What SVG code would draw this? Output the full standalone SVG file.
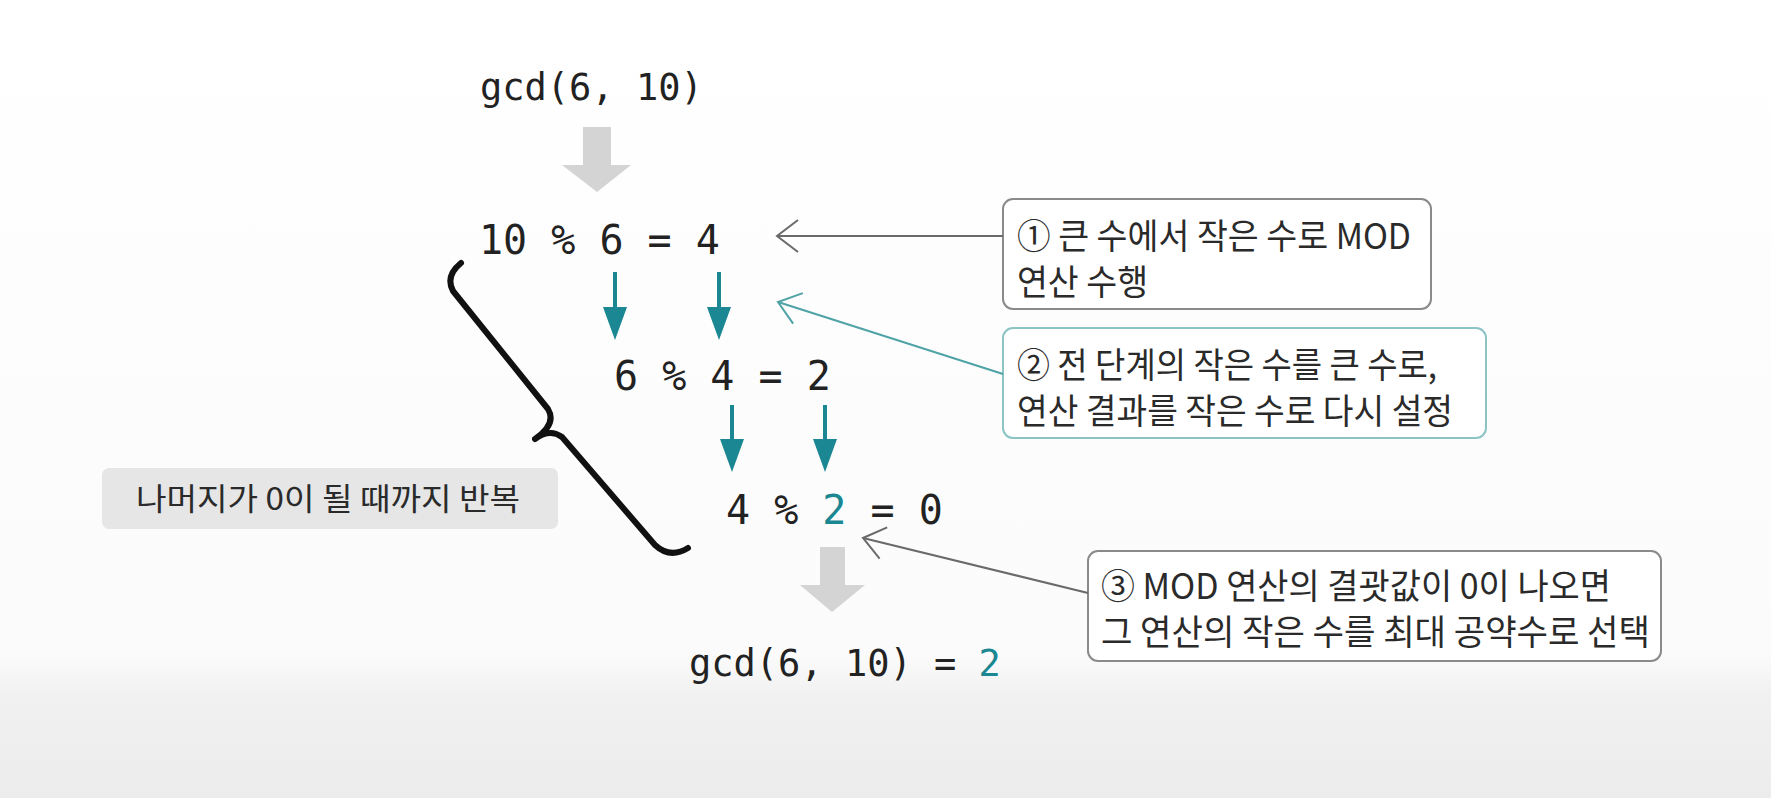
<svg xmlns="http://www.w3.org/2000/svg" width="1771" height="798" viewBox="0 0 1771 798">
<defs>
<linearGradient id="bg" x1="0" y1="0" x2="0" y2="1">
<stop offset="0" stop-color="#ffffff"/>
<stop offset="0.82" stop-color="#fbfbfb"/>
<stop offset="0.87" stop-color="#f1f1f1"/>
<stop offset="1" stop-color="#ececec"/>
</linearGradient>
<marker id="chevGrey" viewBox="-24 -20 28 40" markerWidth="28" markerHeight="40" refX="0" refY="0" orient="auto" markerUnits="userSpaceOnUse">
<path d="M -21 -16 L 0 0 L -21 16" fill="none" stroke="#6a6a6a" stroke-width="2"/>
</marker>
<marker id="chevTeal" viewBox="-24 -20 28 40" markerWidth="28" markerHeight="40" refX="0" refY="0" orient="auto" markerUnits="userSpaceOnUse">
<path d="M -21 -16 L 0 0 L -21 16" fill="none" stroke="#4fa3a6" stroke-width="2"/>
</marker>
<style>
.mono{font-family:"DejaVu Sans Mono","Liberation Mono",monospace;fill:#222;}
.m40{font-size:40px;}
.m37{font-size:37px;}
.kr{font-family:"Noto Sans CJK KR","Noto Sans",sans-serif;font-size:35px;fill:#2a2a2a;}
.teal{fill:#1a8792;}
.box{fill:#ffffff;stroke:#8a8a8a;stroke-width:2;}
.boxT{fill:#ffffff;stroke:#8cc3c5;stroke-width:2;}
.block{fill:#d4d4d4;}
.tarrow{fill:#1a8792;}
.lineG{stroke:#6a6a6a;stroke-width:2;fill:none;}
.lineT{stroke:#4fa3a6;stroke-width:2;fill:none;}
</style>
</defs>
<rect x="0" y="0" width="1771" height="798" fill="url(#bg)"/>

<g id="gcd-start">
<text class="mono m37" x="480" y="100">gcd(6, 10)</text>
</g>

<g id="step1">
<text class="mono m40" x="479" y="254">10 % 6 = 4</text>
</g>

<g id="step2">
<text class="mono m40" x="614" y="390">6 % 4 = 2</text>
</g>

<g id="step3">
<text class="mono m40" x="726" y="524">4 % <tspan class="teal">2</tspan> = 0</text>
</g>

<g id="gcd-result">
<text class="mono m37" x="689" y="676">gcd(6, 10) = <tspan class="teal">2</tspan></text>
</g>

<g id="callout1">
<rect class="box" x="1003" y="199" width="428" height="110" rx="10"/>
<text class="kr" x="1017" y="249" textLength="394" lengthAdjust="spacingAndGlyphs">① 큰 수에서 작은 수로 MOD</text>
<text class="kr" x="1017" y="295" textLength="131" lengthAdjust="spacingAndGlyphs">연산 수행</text>
</g>

<g id="callout2">
<rect class="boxT" x="1003" y="328" width="483" height="110" rx="10"/>
<text class="kr" x="1017" y="378" textLength="420" lengthAdjust="spacingAndGlyphs">② 전 단계의 작은 수를 큰 수로,</text>
<text class="kr" x="1017" y="424" textLength="436" lengthAdjust="spacingAndGlyphs">연산 결과를 작은 수로 다시 설정</text>
</g>

<g id="callout3">
<rect class="box" x="1088" y="551" width="573" height="110" rx="10"/>
<text class="kr" x="1101" y="599" textLength="510" lengthAdjust="spacingAndGlyphs">③ MOD 연산의 결괏값이 0이 나오면</text>
<text class="kr" x="1101" y="645" textLength="549" lengthAdjust="spacingAndGlyphs">그 연산의 작은 수를 최대 공약수로 선택</text>
</g>

<g id="repeat-label">
<rect x="102" y="468" width="456" height="61" rx="7" fill="#e6e6e6"/>
<text class="kr" x="136" y="510" style="font-size:31px" textLength="384" lengthAdjust="spacingAndGlyphs">나머지가 0이 될 때까지 반복</text>
</g>

<g id="brace">
<path d="M 461 263 Q 445 276 453 291 L 548 409 Q 557 424 535 439 Q 550 428 562 437 L 655 545 Q 670 559 688 548" fill="none" stroke="#111" stroke-width="6" stroke-linecap="round" stroke-linejoin="round"/>
</g>

<g id="connectors">
<path class="block" d="M 583 127 H 611 V 165 H 631 L 597 192 L 562 165 H 583 Z"/>
<path class="block" d="M 820 547 H 845 V 585 H 865 L 832 612 L 800 585 H 820 Z"/>
<rect class="tarrow" x="613" y="272" width="4" height="36"/>
<path class="tarrow" d="M 603 307 H 627 L 615 340 Z"/>
<rect class="tarrow" x="717" y="272" width="4" height="36"/>
<path class="tarrow" d="M 707 307 H 731 L 719 340 Z"/>
<rect class="tarrow" x="730" y="405" width="4" height="36"/>
<path class="tarrow" d="M 720 439 H 744 L 732 472 Z"/>
<rect class="tarrow" x="823" y="405" width="4" height="36"/>
<path class="tarrow" d="M 813 439 H 837 L 825 472 Z"/>
<line class="lineG" x1="1003" y1="236" x2="777" y2="236" marker-end="url(#chevGrey)"/>
<line class="lineT" x1="1003" y1="374" x2="778" y2="302" marker-end="url(#chevTeal)"/>
<line class="lineG" x1="1088" y1="593" x2="863" y2="538" marker-end="url(#chevGrey)"/>
</g>
</svg>
